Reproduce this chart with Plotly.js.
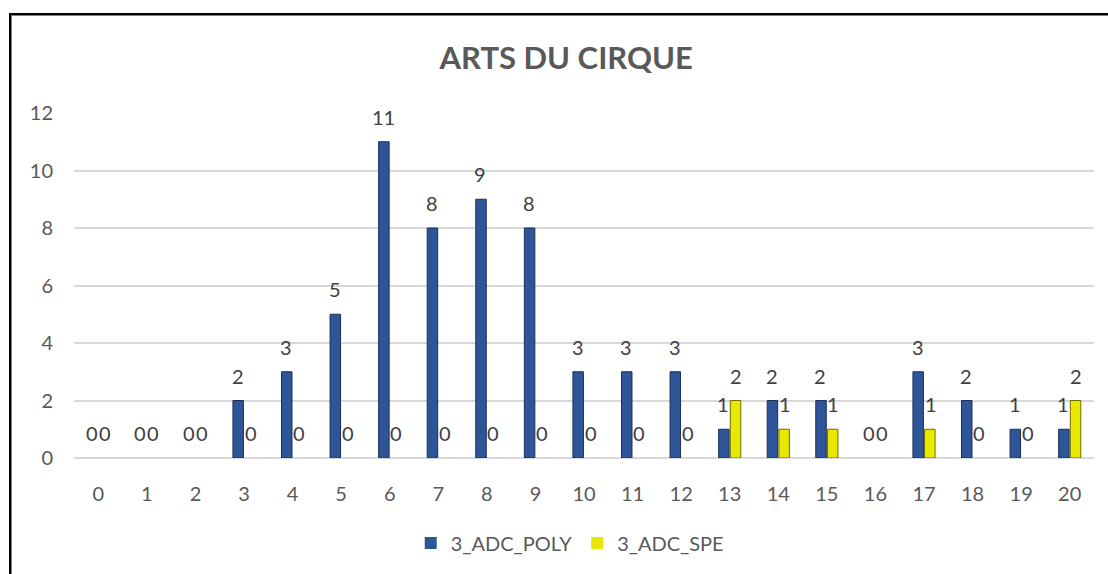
<!DOCTYPE html>
<html>
<head>
<meta charset="utf-8">
<script src="https://cdn.plot.ly/plotly-3.0.1.min.js"></script>
<style>
html,body{margin:0;padding:0;background:#fff;overflow:hidden;}
#chart{position:absolute;left:0;top:0;width:1108px;height:574px;}
#frame{position:absolute;left:9px;top:13px;width:1110px;height:600px;border-top:2px solid #000;border-left:2px solid #000;pointer-events:none;box-shadow:1px 1px 0 #808080 inset;}
</style>
</head>
<body>
<div id="chart"></div>
<div id="frame"></div>
<script>
const categories = ['0','1','2','3','4','5','6','7','8','9','10','11','12','13','14','15','16','17','18','19','20'];
const polyValues = [0,0,0,2,3,5,11,8,9,8,3,3,3,1,2,2,0,3,2,1,1];
const speValues  = [0,0,0,0,0,0,0,0,0,0,0,0,0,2,1,1,0,1,0,0,2];
const seriesNames = ['3_ADC_POLY','3_ADC_SPE'];
const yTicks = [0,2,4,6,8,10,12];
const titleText = 'ARTS DU CIRQUE';

const FONT = 'Lato, "Liberation Sans", sans-serif';

const traces = [
  {type:'bar', name:seriesNames[0], x:categories, y:polyValues,
   marker:{color:'#2E5597', line:{color:'#1B2F5A', width:polyValues.map(v=>v>0?1:0)}}, hoverinfo:'x+y'},
  {type:'bar', name:seriesNames[1], x:categories, y:speValues,
   marker:{color:'#E8E800', line:{color:'#6E6E00', width:speValues.map(v=>v>0?1:0)}}, hoverinfo:'x+y'}
];

const annotations = [];
function addLabels(vals, shift){
  vals.forEach((v,i)=>{
    annotations.push({x:categories[i], y:v, xref:'x', yref:'y', text:String(v),
      showarrow:false, xshift:shift, yshift:25, yanchor:'middle', xanchor:'center',
      font:{family:FONT, size:20, color:'#404040'}});
  });
}
addLabels(polyValues, -6.5);
addLabels(speValues, 6.5);

const layout = {
  width:1108, height:574,
  paper_bgcolor:'#ffffff', plot_bgcolor:'#ffffff',
  margin:{l:74, r:14, t:113, b:116},
  title:{text:'<b>'+titleText+'</b>', x:0.511, xanchor:'center', y:1-58/574, yanchor:'middle',
         font:{family:FONT, size:31, color:'#595959'}},
  barmode:'group', bargap:0.52, bargroupgap:0.1,
  xaxis:{type:'category', categoryorder:'array', categoryarray:categories,
         showgrid:false, showline:false, zeroline:false, ticks:'',
         ticklabelstandoff:22,
         tickfont:{family:FONT, size:20, color:'#595959'}},
  yaxis:{range:[0,12], tickvals:yTicks, showgrid:true, gridcolor:'#D9D9D9', gridwidth:2,
         zeroline:true, zerolinecolor:'#D9D9D9', zerolinewidth:2, showline:false, ticks:'',
         ticklabelstandoff:20,
         tickfont:{family:FONT, size:20, color:'#595959'}},
  showlegend:true,
  legend:{orientation:'h', x:0.486, xanchor:'center', y:-85/345, yanchor:'middle',
          font:{family:FONT, size:20, color:'#595959'}, itemwidth:30, traceorder:'normal'},
  annotations:annotations
};

Plotly.newPlot('chart', traces, layout, {displayModeBar:false, staticPlot:true});
</script>
</body>
</html>
